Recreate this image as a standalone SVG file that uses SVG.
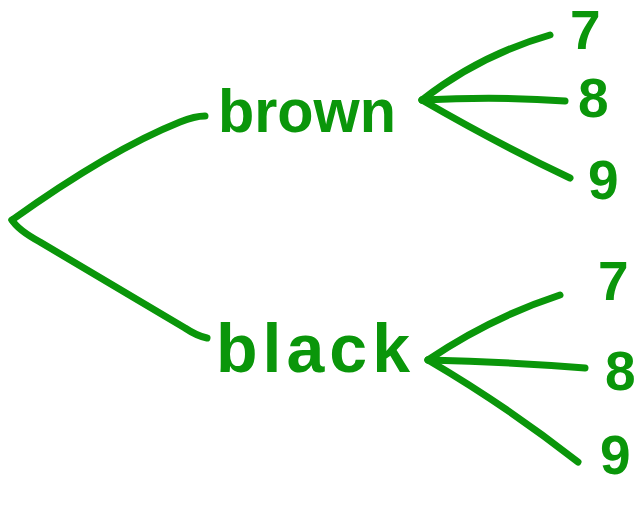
<svg xmlns="http://www.w3.org/2000/svg" width="643" height="510" viewBox="0 0 643 510">
  <style>
    .edge { fill: none; stroke: #0a960a; stroke-width: 7; stroke-linecap: round; stroke-linejoin: round; }
    .label { fill: #0a960a; font-family: "Liberation Sans", Arial, sans-serif; font-weight: bold; }
    .word { font-size: 62px; }
    .digit { font-size: 55px; }
  </style>
  <rect width="643" height="510" fill="#ffffff"/>

  <!-- connectors of the tree -->
  <g id="connectors">
    <path class="edge" d="M 12 220 Q 110 150 180 122 Q 195 116 205 116"/>
    <path class="edge" d="M 12 220 Q 18 230 40 242 L 185 328 Q 197 336 207 338"/>
    <path class="edge" d="M 422 100 Q 480 55 550 35"/>
    <path class="edge" d="M 422 100 Q 500 96 565 101"/>
    <path class="edge" d="M 422 100 Q 500 145 570 178"/>
    <path class="edge" d="M 428 360 Q 490 318 560 295"/>
    <path class="edge" d="M 428 360 Q 510 362 585 368"/>
    <path class="edge" d="M 428 360 Q 505 405 578 462"/>
  </g>

  <!-- first-level nodes -->
  <g id="node-brown">
    <text class="label word" x="218" y="132" textLength="178" lengthAdjust="spacingAndGlyphs">brown</text>
  </g>
  <g id="node-black">
    <text class="label word" x="216" y="372" textLength="194" lengthAdjust="spacing" style="font-size:68px">black</text>
  </g>

  <!-- leaves under brown -->
  <g id="node-brown-7">
    <text class="label digit" x="570" y="49">7</text>
  </g>
  <g id="node-brown-8">
    <text class="label digit" x="578" y="117">8</text>
  </g>
  <g id="node-brown-9">
    <text class="label digit" x="588" y="199">9</text>
  </g>

  <!-- leaves under black -->
  <g id="node-black-7">
    <text class="label digit" x="598" y="300">7</text>
  </g>
  <g id="node-black-8">
    <text class="label digit" x="605" y="390">8</text>
  </g>
  <g id="node-black-9">
    <text class="label digit" x="600" y="474">9</text>
  </g>
</svg>
